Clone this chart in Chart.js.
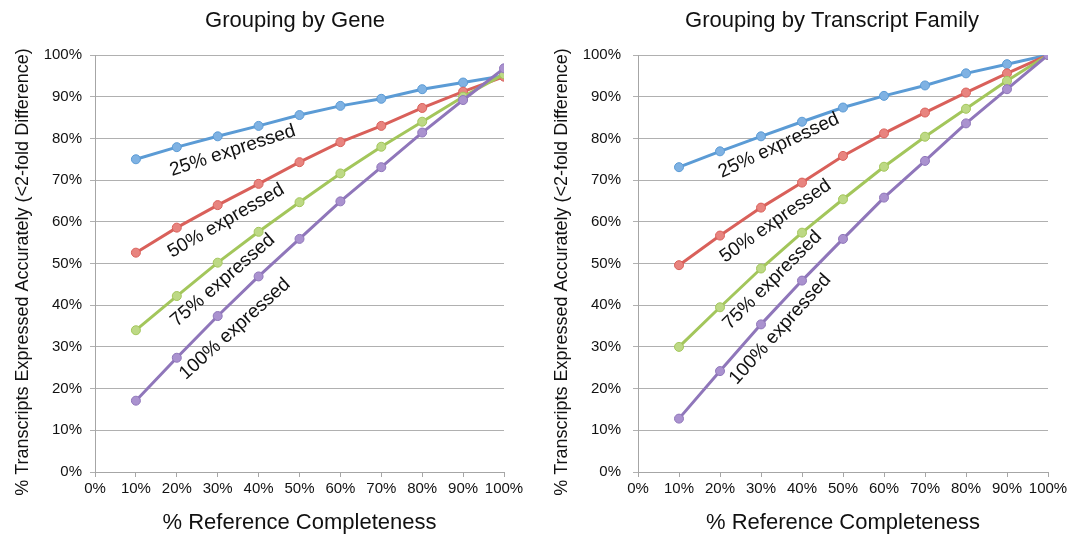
<!DOCTYPE html>
<html>
<head>
<meta charset="utf-8">
<script src="https://cdn.jsdelivr.net/npm/chart.js@4.4.1/dist/chart.umd.min.js"></script>
<style>
  html, body { margin: 0; padding: 0; background: #fff; }
  .wrap { position: absolute; top: 0; width: 539px; height: 539px; }
  #w1 { left: 0; }
  #w2 { left: 539px; }
</style>
</head>
<body>
<div class="wrap" id="w1"><canvas id="c1" width="539" height="539"></canvas></div>
<div class="wrap" id="w2"><canvas id="c2" width="539" height="539"></canvas></div>
<script>
// ── DATA ──────────────────────────────────────────────────────────────────
const completeness = [10, 20, 30, 40, 50, 60, 70, 80, 90, 100];
const seriesNames  = ['25% expressed', '50% expressed', '75% expressed', '100% expressed'];

// Grouping by Gene
const gene25  = [75.0, 77.9, 80.5, 83.0, 85.6, 87.8, 89.5, 91.8, 93.4, 95.0];
const gene50  = [52.6, 58.6, 64.0, 69.1, 74.3, 79.1, 83.0, 87.3, 91.2, 94.8];
const gene75  = [34.0, 42.2, 50.2, 57.6, 64.7, 71.6, 78.0, 84.0, 90.0, 95.4];
const gene100 = [17.1, 27.4, 37.4, 46.9, 55.9, 64.9, 73.1, 81.4, 89.2, 96.8];

// Grouping by Transcript Family
const family25  = [73.1, 76.9, 80.5, 84.0, 87.4, 90.2, 92.7, 95.6, 97.8, 100];
const family50  = [49.6, 56.7, 63.4, 69.4, 75.8, 81.2, 86.2, 91.0, 95.6, 100];
const family75  = [30.0, 39.5, 48.8, 57.4, 65.4, 73.2, 80.4, 87.1, 93.8, 100];
const family100 = [12.8, 24.2, 35.4, 45.9, 55.9, 65.8, 74.6, 83.6, 91.8, 100];

// ── STYLE ─────────────────────────────────────────────────────────────────
const FONT = "'Liberation Sans', Arial, sans-serif";
const lineColors   = ['#5b9bd5', '#d9605a', '#a3c65b', '#8f76ba'];
const markerColors = ['#7fb2e3', '#e8847f', '#bdd985', '#aa92cf'];
const Y_TITLE = '% Transcripts Expressed Accurately (<2-fold Difference)';
const X_TITLE = '% Reference Completeness';

function makeDatasets(values) {
  return values.map((vals, i) => ({
    label: seriesNames[i],
    data: completeness.map((x, j) => ({ x, y: vals[j] })),
    borderColor: lineColors[i],
    backgroundColor: markerColors[i],
    pointBackgroundColor: markerColors[i],
    pointBorderColor: lineColors[i],
    pointBorderWidth: 1,
    pointRadius: 4.5,
    borderWidth: 3,
    tension: 0,
    order: 4 - i,   // purple on top
  }));
}

// titles + rotated series labels, drawn on top
const decorPlugin = {
  id: 'decor',
  afterDraw(chart, args, opts) {
    const { ctx, scales: { x, y } } = chart;
    ctx.save();
    ctx.fillStyle = '#111';
    // chart title
    ctx.font = `22px ${FONT}`;
    ctx.textAlign = 'center';
    ctx.textBaseline = 'alphabetic';
    ctx.fillText(opts.title, opts.titleX, 27);
    // y title
    ctx.save();
    ctx.font = `18px ${FONT}`;
    ctx.translate(opts.yTitleX, 272);
    ctx.rotate(-Math.PI / 2);
    ctx.fillText(Y_TITLE, 0, 0);
    ctx.restore();
    // series labels
    ctx.font = `19px ${FONT}`;
    ctx.textAlign = 'left';
    opts.labels.forEach(l => {
      ctx.save();
      ctx.translate(x.getPixelForValue(l.x), y.getPixelForValue(l.y));
      ctx.rotate(l.angle * Math.PI / 180);
      ctx.fillText(l.text, 0, 0);
      ctx.restore();
    });
    ctx.restore();
  }
};

function makeChart(id, values, cfg) {
  return new Chart(document.getElementById(id), {
    type: 'line',
    data: { datasets: makeDatasets(values) },
    plugins: [decorPlugin],
    options: {
      responsive: false, animation: false, devicePixelRatio: 1,
      layout: { padding: { left: 0, top: 55, right: cfg.rightPad, bottom: 0 } },
      plugins: {
        legend: { display: false },
        tooltip: { enabled: false },
        decor: { title: cfg.title, titleX: cfg.titleX, yTitleX: 28, labels: cfg.labels },
      },
      scales: {
        x: {
          type: 'linear', min: 0, max: 100,
          afterFit: s => { s.height = 67; },
          ticks: { stepSize: 10, autoSkip: false, padding: 3, color: '#111', font: { family: FONT, size: 15 }, maxRotation: 0,
                   callback: v => v + '%' },
          grid: { drawOnChartArea: false, drawTicks: true, tickLength: 5, color: '#a6a6a6' },
          border: { color: '#a6a6a6', width: 1 },
          title: { display: true, text: X_TITLE, color: '#111', font: { family: FONT, size: 22 }, padding: { top: 0, bottom: 3 } },
        },
        y: {
          type: 'linear', min: 0, max: 100,
          afterFit: s => { s.width = cfg.yWidth; },
          ticks: { stepSize: 10, autoSkip: false, padding: cfg.yTickPad, color: '#111', font: { family: FONT, size: 15 },
                   callback: v => v + '%' },
          grid: { color: '#b0b0b0', tickLength: 5, lineWidth: 1 },
          border: { color: '#a6a6a6', width: 1 },
        },
      },
    },
  });
}

makeChart('c1', [gene25, gene50, gene75, gene100], {
  title: 'Grouping by Gene', titleX: 295, rightPad: 35, yWidth: 95, yTickPad: 8,
  labels: [
    { text: seriesNames[0], x: 18.8, y: 71.0, angle: -18 },
    { text: seriesNames[1], x: 18.8, y: 51.3, angle: -30 },
    { text: seriesNames[2], x: 20.0, y: 34.7, angle: -41 },
    { text: seriesNames[3], x: 22.2, y: 22.0, angle: -42 },
  ],
});

makeChart('c2', [family25, family50, family75, family100], {
  title: 'Grouping by Transcript Family', titleX: 293, rightPad: 30, yWidth: 99, yTickPad: 12,
  labels: [
    { text: seriesNames[0], x: 20.4, y: 70.5, angle: -25 },
    { text: seriesNames[1], x: 21.2, y: 50.1, angle: -35 },
    { text: seriesNames[2], x: 22.4, y: 34.0, angle: -45 },
    { text: seriesNames[3], x: 24.1, y: 20.8, angle: -48 },
  ],
});
</script>
</body>
</html>
